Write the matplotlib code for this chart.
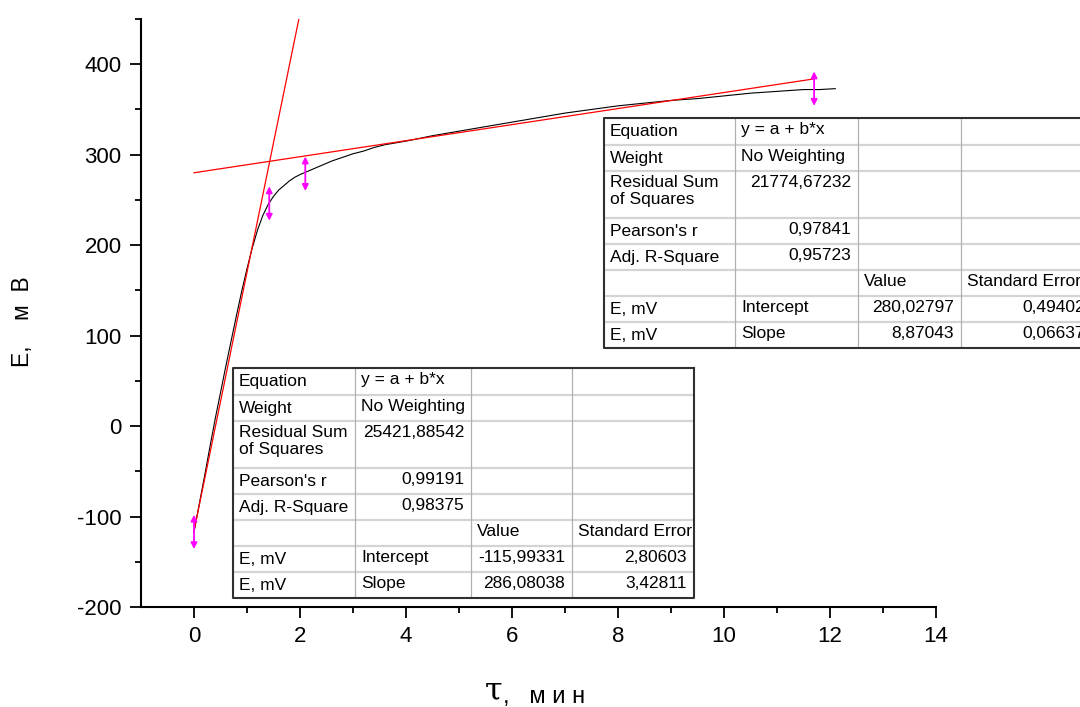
import matplotlib
matplotlib.use('Agg')
import matplotlib.pyplot as plt
import numpy as np

plt.rcParams.update({
    'font.family': ['Liberation Sans', 'DejaVu Sans'],
    'font.size': 12,
    'figure.dpi': 100,
    'axes.unicode_minus': False,
})

W, H = 1080, 707

# ---------- data ----------
tau = [0.0, 0.1, 0.2, 0.3, 0.4, 0.5, 0.6, 0.7, 0.8, 0.9, 1.0, 1.1, 1.2, 1.3,
       1.4, 1.5, 1.6, 1.7, 1.8, 1.9, 2.0, 2.2, 2.4, 2.6, 2.8, 3.0, 3.2, 3.4,
       3.6, 3.8, 4.0, 4.5, 5.0, 5.5, 6.0, 6.5, 7.0, 7.5, 8.0, 8.5, 9.0, 9.5,
       10.0, 10.5, 11.0, 11.5, 11.8, 12.1]
E_mv = [-117, -86, -55, -23, 8, 37, 66, 94, 122, 149, 174, 197, 217, 233,
        245, 254, 261, 266, 271, 275, 278, 283, 288, 293, 297, 301, 304, 308,
        311, 313, 315, 321, 326, 331, 336, 341, 346, 350, 354, 357, 360, 362,
        365, 368, 370, 372, 372, 373]

# linear fits (intercept, slope) and the x-range each line is drawn over
fit1 = (-115.99331, 286.08038)
fit1_x = (0.0, 2.1)
fit2 = (280.02797, 8.87043)
fit2_x = (0.0, 11.7)

# magenta range markers: x position and y-centre
mark_x = [0.0, 1.42, 2.1, 11.7]
mark_y = [-117, 246, 279, 373]
mark_half = 19

# fit tables
table1_rows = [
    ['Equation', 'y = a + b*x', '', ''],
    ['Weight', 'No Weighting', '', ''],
    ['Residual Sum\nof Squares', '25421,88542', '', ''],
    ["Pearson's r", '0,99191', '', ''],
    ['Adj. R-Square', '0,98375', '', ''],
    ['', '', 'Value', 'Standard Error'],
    ['E, mV', 'Intercept', '-115,99331', '2,80603'],
    ['E, mV', 'Slope', '286,08038', '3,42811'],
]
table2_rows = [
    ['Equation', 'y = a + b*x', '', ''],
    ['Weight', 'No Weighting', '', ''],
    ['Residual Sum\nof Squares', '21774,67232', '', ''],
    ["Pearson's r", '0,97841', '', ''],
    ['Adj. R-Square', '0,95723', '', ''],
    ['', '', 'Value', 'Standard Error'],
    ['E, mV', 'Intercept', '280,02797', '0,49402'],
    ['E, mV', 'Slope', '8,87043', '0,06637'],
]
NUMERIC = lambda s: s[:1].isdigit() or s[:1] == '-'

# ---------- figure ----------
fig = plt.figure(figsize=(W / 100, H / 100), dpi=100)
ax = fig.add_axes([141 / W, 1 - 607 / H, (936 - 141) / W, (607 - 19) / H])

ax.plot(tau, E_mv, color='black', lw=0.8, zorder=3)
for (a, b), (x0, x1) in [(fit1, fit1_x), (fit2, fit2_x)]:
    xs = np.array([x0, x1])
    ax.plot(xs, a + b * xs, color='#ff0000', lw=0.9, zorder=4)

for mx, my in zip(mark_x, mark_y):
    ax.annotate('', xy=(mx, my + mark_half), xytext=(mx, my - mark_half),
                arrowprops=dict(arrowstyle='<|-|>', color='#ff00ff', lw=1.3,
                                mutation_scale=9, shrinkA=0, shrinkB=0),
                zorder=5)

ax.set_xlim(-1, 14)
ax.set_ylim(-200, 450)
ax.set_xticks(np.arange(0, 15, 2))
ax.set_xticks(np.arange(1, 14, 2), minor=True)
ax.set_yticks(np.arange(-200, 401, 100))
ax.set_yticks(np.arange(-150, 451, 100), minor=True)
for s in ['top', 'right']:
    ax.spines[s].set_visible(False)
for s in ['left', 'bottom']:
    ax.spines[s].set_linewidth(1.5)
ax.tick_params(which='major', direction='out', length=8, width=1.3,
               labelsize=16, pad=6)
ax.tick_params(which='minor', direction='out', length=4.3, width=1.3)

# axis titles
fig.text(23 / W, 1 - 322 / H, 'E,    м  В', rotation=90, fontsize=16.5,
         ha='center', va='center')
fig.text(485 / W, 1 - 706.5 / H, 'τ', fontsize=23, family='DejaVu Serif',
         ha='left', va='bottom')
fig.text(503 / W, 1 - 703 / H, ',   м и н', fontsize=17,
         ha='left', va='baseline')


def draw_table(rows, left, top, col_w, row_h):
    tw, th = sum(col_w), sum(row_h)
    tax = fig.add_axes([left / W, 1 - (top + th) / H, tw / W, th / H])
    tax.set_xlim(0, tw)
    tax.set_ylim(th, 0)
    tax.axis('off')
    tax.patch.set_visible(False)
    tax.add_patch(plt.Rectangle((0, 0), tw, th, facecolor='white',
                                edgecolor='none', zorder=0))
    xs = np.concatenate([[0], np.cumsum(col_w)])
    ys = np.concatenate([[0], np.cumsum(row_h)])
    for y in ys[1:-1]:
        tax.plot([0, tw], [y, y], color='#d4d4d4', lw=1.6, zorder=1)
    for x in xs[1:-1]:
        tax.plot([x, x], [0, th], color='#b0b0b0', lw=0.9, zorder=1)
    tax.plot([tw, 0, 0, tw, tw], [0, 0, th, th, 0], color='#303030',
             lw=1.5, zorder=2, clip_on=False)
    for r, row in enumerate(rows):
        for c, txt in enumerate(row):
            if not txt:
                continue
            y_top = ys[r]
            lines = txt.count('\n') + 1
            shift = -2 if c > 0 else 0
            yc = y_top + 13.5 + shift if lines == 1 else y_top + 4 + shift
            va = 'center' if lines == 1 else 'top'
            if c > 0 and NUMERIC(txt):
                tax.text(xs[c + 1] - 7, yc, txt, ha='right', va=va,
                         fontsize=12.5, clip_on=False)
            else:
                tax.text(xs[c] + 6, yc, txt, ha='left', va=va, fontsize=12.5,
                         linespacing=1.2, clip_on=False)


draw_table(table1_rows, 233, 368, [122, 116, 101, 122],
           [27, 26, 47, 26, 26, 26, 26, 26])
draw_table(table2_rows, 604, 118, [131, 123, 103, 131],
           [27, 26, 47, 26, 26, 26, 26, 26])

fig.savefig('out.png', dpi=100)
